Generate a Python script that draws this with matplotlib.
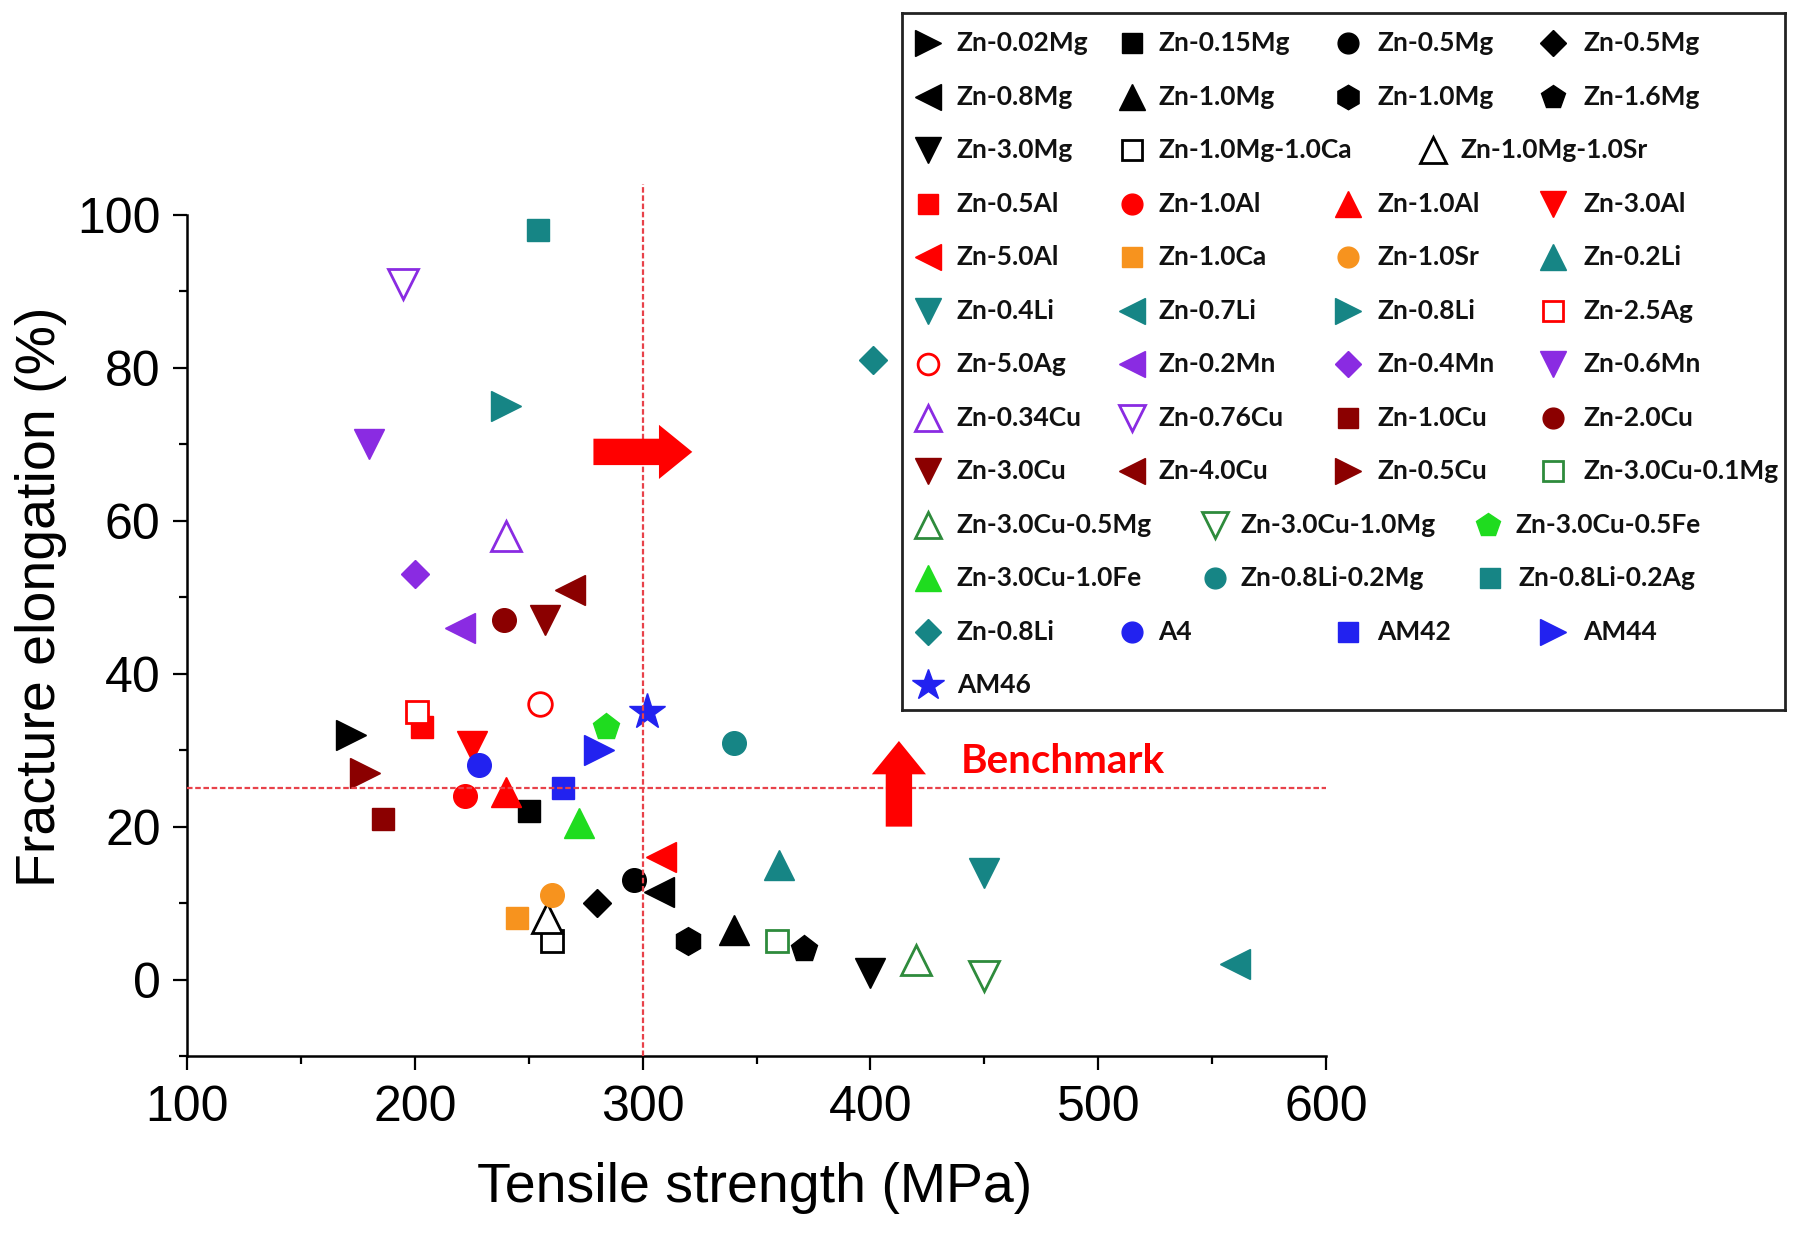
import matplotlib.pyplot as plt
from matplotlib.patches import FancyArrowPatch

# --- data ---
names = ['Zn-0.02Mg', 'Zn-0.15Mg', 'Zn-0.5Mg', 'Zn-0.5Mg',
         'Zn-0.8Mg', 'Zn-1.0Mg', 'Zn-1.0Mg', 'Zn-1.6Mg',
         'Zn-3.0Mg', 'Zn-1.0Mg-1.0Ca', 'Zn-1.0Mg-1.0Sr',
         'Zn-0.5Al', 'Zn-1.0Al', 'Zn-1.0Al', 'Zn-3.0Al',
         'Zn-5.0Al', 'Zn-1.0Ca', 'Zn-1.0Sr', 'Zn-0.2Li',
         'Zn-0.4Li', 'Zn-0.7Li', 'Zn-0.8Li', 'Zn-2.5Ag',
         'Zn-5.0Ag', 'Zn-0.2Mn', 'Zn-0.4Mn', 'Zn-0.6Mn',
         'Zn-0.34Cu', 'Zn-0.76Cu', 'Zn-1.0Cu', 'Zn-2.0Cu',
         'Zn-3.0Cu', 'Zn-4.0Cu', 'Zn-0.5Cu', 'Zn-3.0Cu-0.1Mg',
         'Zn-3.0Cu-0.5Mg', 'Zn-3.0Cu-1.0Mg', 'Zn-3.0Cu-0.5Fe',
         'Zn-3.0Cu-1.0Fe', 'Zn-0.8Li-0.2Mg', 'Zn-0.8Li-0.2Ag',
         'Zn-0.8Li', 'A4', 'AM42', 'AM44',
         'AM46']
strength = [172, 250, 296, 280,
            307, 340, 320, 371,
            400, 260, 258,
            203, 222, 240, 225,
            308, 245, 260, 360,
            450, 560, 240, 201,
            255, 220, 200, 180,
            240, 195, 186, 239,
            257, 268, 178, 359,
            420, 450, 284,
            272, 340, 254,
            401, 228, 265, 281,
            302]
elongation = [32, 22, 13, 10,
              11.5, 6.5, 5, 4,
              0.8, 5, 8,
              33, 24, 24.5, 30.5,
              16, 8, 11, 15,
              14, 2, 75, 35,
              36, 46, 53, 70,
              58, 91, 21, 47,
              47, 51, 27, 5,
              2.5, 0.5, 33,
              20.5, 31, 98,
              81, 28, 25, 30,
              35]

benchmark_strength = 300
benchmark_elongation = 25

# marker, colour, hollow
BLACK, RED, ORANGE, TEAL = '#000000', '#ff0000', '#f7931e', '#168585'
PURPLE, DRED, GREEN, LIME, BLUE = '#8a2be2', '#8b0000', '#2e8b3c', '#1fdc1f', '#2222f0'
styles = [
    ('>', BLACK, False), ('s', BLACK, False), ('o', BLACK, False), ('D', BLACK, False),
    ('<', BLACK, False), ('^', BLACK, False), ('h', BLACK, False), ('p', BLACK, False),
    ('v', BLACK, False), ('s', BLACK, True), ('^', BLACK, True),
    ('s', RED, False), ('o', RED, False), ('^', RED, False), ('v', RED, False),
    ('<', RED, False), ('s', ORANGE, False), ('o', ORANGE, False), ('^', TEAL, False),
    ('v', TEAL, False), ('<', TEAL, False), ('>', TEAL, False), ('s', RED, True),
    ('o', RED, True), ('<', PURPLE, False), ('D', PURPLE, False), ('v', PURPLE, False),
    ('^', PURPLE, True), ('v', PURPLE, True), ('s', DRED, False), ('o', DRED, False),
    ('v', DRED, False), ('<', DRED, False), ('>', DRED, False), ('s', GREEN, True),
    ('^', GREEN, True), ('v', GREEN, True), ('p', LIME, False),
    ('^', LIME, False), ('o', TEAL, False), ('s', TEAL, False),
    ('D', TEAL, False), ('o', BLUE, False), ('s', BLUE, False), ('>', BLUE, False),
    ('*', BLUE, False),
]
msize = {'s': 16, 'o': 17, '^': 21, 'v': 21, '<': 21, '>': 21,
         'D': 14.5, 'h': 20, 'p': 20, '*': 27}


def marker_kw(i):
    m, c, hollow = styles[i]
    kw = dict(marker=m, markersize=msize[m], linestyle='none',
              markeredgecolor=c)
    if hollow:
        kw.update(markerfacecolor='white', markeredgewidth=2)
    else:
        kw.update(markerfacecolor=c, markeredgewidth=1)
    return kw


plt.rcParams['font.family'] = ['Liberation Sans', 'DejaVu Sans']

fig = plt.figure(figsize=(18, 12.34), dpi=100)
ax = fig.add_axes([0.1039, 0.1442, 0.6328, 0.7127])

for i in range(len(names)):
    ax.plot(strength[i], elongation[i], zorder=3, **marker_kw(i))

# benchmark lines
line_kw = dict(color='#e8424a', lw=1.6, dashes=(2.5, 1.2), zorder=4)
ax.plot([100, 600], [benchmark_elongation, benchmark_elongation], **line_kw)
ax.plot([benchmark_strength, benchmark_strength], [-10, 104], **line_kw)

# arrows
arrow_style = 'simple,head_length=1.2,head_width=1.95,tail_width=0.95'
for start, end in [((278.4, 69), (321.8, 69)), ((412.5, 20), (412.5, 31.2))]:
    ax.add_patch(FancyArrowPatch(start, end, arrowstyle=arrow_style,
                                 mutation_scale=20, color='#ff0000', lw=0,
                                 shrinkA=0, shrinkB=0, zorder=5))
ax.text(484.6, 28.5, 'Benchmark', color='#ff0000', fontsize=29,
        fontweight='bold', family='Lato', ha='center', va='center')

ax.set_xlim(100, 600)
ax.set_ylim(-10, 105)
ax.set_xticks([100, 200, 300, 400, 500, 600])
ax.set_xticks([150, 250, 350, 450, 550], minor=True)
ax.set_yticks([0, 20, 40, 60, 80, 100])
ax.set_yticks([-10, 10, 30, 50, 70, 90], minor=True)
ax.spines['top'].set_visible(False)
ax.spines['right'].set_visible(False)
ax.spines['left'].set_bounds(-10, 100)
for s in ('left', 'bottom'):
    ax.spines[s].set_linewidth(1.8)
ax.tick_params(which='major', length=10, width=1.6, labelsize=36, pad=9)
ax.tick_params(which='minor', length=6, width=1.6)
ax.tick_params(axis='x', which='major', pad=11)

ax.set_xlabel('Tensile strength (MPa)', fontsize=40)
ax.set_ylabel('Fracture elongation (%)', fontsize=40)
ax.xaxis.set_label_coords(0.498, -0.12)
ax.yaxis.set_label_coords(-0.105, 0.522)

# hand-placed legend box (pixel coordinates of the full figure)
lax = fig.add_axes([0.5011, 0.4246, 0.4906, 0.5648])
lax.set_xlim(902, 1785)
lax.set_ylim(710, 13)
lax.set_xticks([])
lax.set_yticks([])
for s in lax.spines.values():
    s.set_linewidth(2)
    s.set_color('#222222')

rows = [[0, 1, 2, 3], [4, 5, 6, 7], [8, 9, 10], [11, 12, 13, 14],
        [15, 16, 17, 18], [19, 20, 21, 22], [23, 24, 25, 26],
        [27, 28, 29, 30], [31, 32, 33, 34], [35, 36, 37], [38, 39, 40],
        [41, 42, 43, 44], [45]]
std_cols = [(928, 957), (1132, 1158), (1348, 1377), (1553, 1583)]
special_cols = {2: [(928, 957), (1132, 1158), (1433, 1460)],
                9: [(928, 957), (1215, 1240), (1488, 1515)],
                10: [(928, 957), (1215, 1240), (1490, 1518)]}

for r, row in enumerate(rows):
    y = 43 + 53.5 * r
    cols = special_cols.get(r, std_cols)
    for idx, (mx, tx) in zip(row, cols):
        kw = marker_kw(idx)
        kw['markersize'] = kw['markersize'] * 0.88
        lax.plot(mx, y, **kw)
        lax.text(tx, y, names[idx], fontsize=19, fontweight='bold',
                 family='Lato', color='#111111', ha='left', va='center')

fig.savefig('out.png', dpi=100)
